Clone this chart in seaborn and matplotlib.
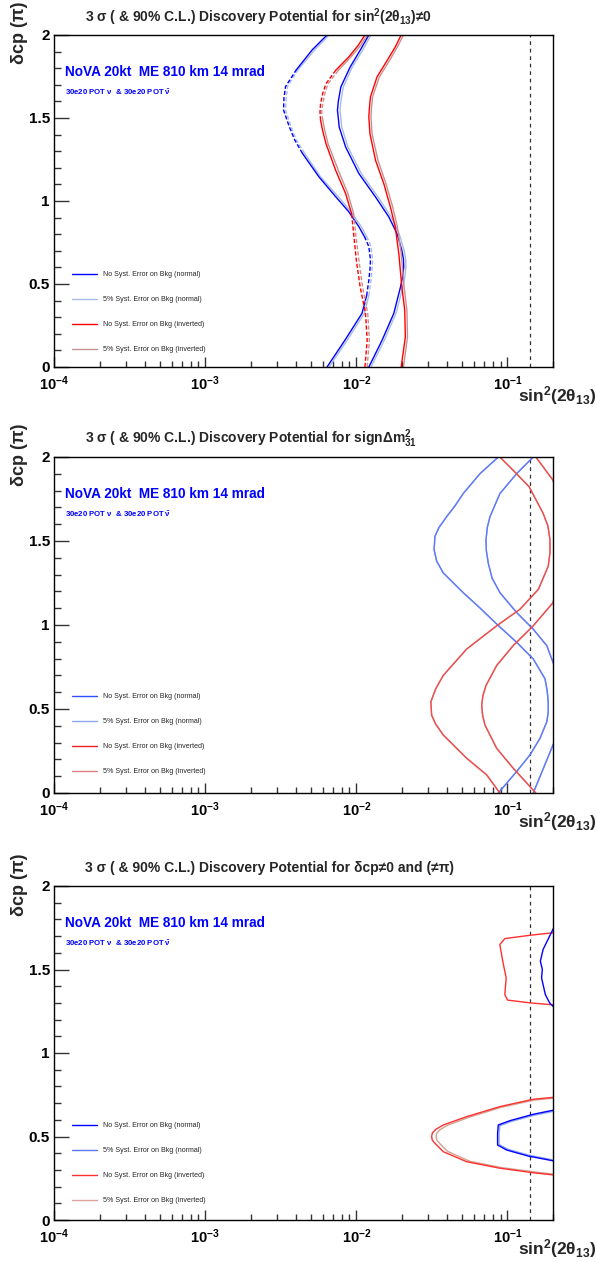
import numpy as np
import pandas as pd
import matplotlib
matplotlib.use("Agg")
import matplotlib.pyplot as plt
import seaborn as sns
from matplotlib.lines import Line2D
from matplotlib.ticker import FixedLocator, MultipleLocator, LogLocator, NullFormatter

# ---------------- data ----------------
XTICKS = [1e-4, 1e-3, 1e-2, 1e-1]
XTICK_LABELS = [r"$10^{-4}$", r"$10^{-3}$", r"$10^{-2}$", r"$10^{-1}$"]
YTICKS = [0, 0.5, 1, 1.5, 2]
YTICK_LABELS = ["0", "0.5", "1", "1.5", "2"]
CHOOZ_LIMIT = 0.14
LEGEND_LABELS = ["No Syst. Error on Bkg (normal)", "5% Syst. Error on Bkg (normal)",
                 "No Syst. Error on Bkg (inverted)", "5% Syst. Error on Bkg (inverted)"]
TITLES = [r"3 σ ( & 90% C.L.) Discovery Potential for sin$^{2}$(2θ$_{13}$)≠0",
          r"3 σ ( & 90% C.L.) Discovery Potential for signΔm$^{2}_{31}$",
          r"3 σ ( & 90% C.L.) Discovery Potential for δcp≠0 and (≠π)"]

# Panel 1: sin^2(2theta13) != 0   (d = delta_cp / pi, x = sin^2(2theta13))
p1_bn90_d = [0, 0.161, 0.323, 0.43, 0.524, 0.585, 0.645, 0.725, 0.78, 0.845, 0.936, 1.026, 1.146, 1.287, 1.37, 1.448, 1.548, 1.62, 1.689, 1.789, 1.910, 2.0]
p1_bn90_x = [0.0064, 0.0084, 0.0109, 0.0117, 0.0121, 0.0123, 0.0124, 0.0121, 0.0114, 0.0104, 0.0089, 0.0073, 0.00565, 0.0044, 0.0039, 0.0036, 0.0033, 0.00332, 0.0034, 0.0040, 0.0051, 0.0064]
p1_bn90s_x = [0.0066, 0.0087, 0.0113, 0.0121, 0.0125, 0.0127, 0.0128, 0.0125, 0.0118, 0.0108, 0.0092, 0.0076, 0.0058, 0.00455, 0.0040, 0.0037, 0.0034, 0.00344, 0.0035, 0.0041, 0.0053, 0.0066]
p1_bn3_d = [0, 0.161, 0.323, 0.482, 0.54, 0.603, 0.65, 0.703, 0.803, 0.904, 1.024, 1.165, 1.325, 1.446, 1.50, 1.546, 1.60, 1.687, 1.807, 1.908, 2.0]
p1_bn3_x = [0.0121, 0.0148, 0.0177, 0.0196, 0.0202, 0.0206, 0.0205, 0.0200, 0.0186, 0.0164, 0.0134, 0.0104, 0.0085, 0.0077, 0.0076, 0.0075, 0.0076, 0.0079, 0.0091, 0.0106, 0.0121]
p1_bn3s_x = [0.0125, 0.0153, 0.0183, 0.0203, 0.0209, 0.0213, 0.0212, 0.0207, 0.0192, 0.0170, 0.0139, 0.0108, 0.0088, 0.0080, 0.0079, 0.0078, 0.0079, 0.0082, 0.0094, 0.0110, 0.0125]
p1_ri90_d = [0, 0.161, 0.323, 0.482, 0.643, 0.803, 0.924, 1.044, 1.185, 1.345, 1.42, 1.486, 1.536, 1.586, 1.65, 1.707, 1.787, 1.867, 1.938, 2.0]
p1_ri90_x = [0.0114, 0.0118, 0.0115, 0.0106, 0.0100, 0.0096, 0.0093, 0.0085, 0.0073, 0.0063, 0.0060, 0.0058, 0.00575, 0.0058, 0.0060, 0.0063, 0.0073, 0.0089, 0.0103, 0.0114]
p1_ri90s_x = [0.0118, 0.0122, 0.0119, 0.0110, 0.0104, 0.0099, 0.0096, 0.0088, 0.0076, 0.0065, 0.0062, 0.0060, 0.0059, 0.0060, 0.0062, 0.0065, 0.0076, 0.0092, 0.0107, 0.0118]
p1_ri3_d = [0, 0.181, 0.343, 0.482, 0.683, 0.843, 0.964, 1.104, 1.245, 1.406, 1.456, 1.506, 1.56, 1.627, 1.747, 1.847, 1.928, 2.0]
p1_ri3_x = [0.0198, 0.0211, 0.0209, 0.0200, 0.0191, 0.0181, 0.0168, 0.0152, 0.0134, 0.0123, 0.0122, 0.0121, 0.0122, 0.0124, 0.0137, 0.0160, 0.0181, 0.0198]
p1_ri3s_x = [0.0205, 0.0218, 0.0216, 0.0207, 0.0198, 0.0187, 0.0174, 0.0157, 0.0139, 0.0127, 0.0126, 0.0125, 0.0126, 0.0128, 0.0142, 0.0166, 0.0187, 0.0205]
p1_bn90_dashed = [(0.44, 0.80), (1.23, 1.80)]
p1_ri90_dashed = [(0.0, 0.88), (1.46, 1.75)]

# Panel 2: sign of delta m^2_31
p2_bn90_d = [0, 0.128, 0.227, 0.325, 0.424, 0.48, 0.542, 0.61, 0.680, 0.798, 0.897, 1.005, 1.10, 1.192, 1.310, 1.38, 1.448, 1.527, 1.58, 1.645, 1.71, 1.783, 1.901, 2.0]
p2_bn90_x = [0.087, 0.115, 0.141, 0.164, 0.182, 0.186, 0.186, 0.183, 0.177, 0.148, 0.115, 0.085, 0.066, 0.051, 0.0376, 0.034, 0.0327, 0.0331, 0.0352, 0.0396, 0.045, 0.051, 0.0658, 0.087]
p2_bn3_d = [0, 0.148, 0.286, 0.40, 0.55, 0.68, 0.778, 0.877, 0.975, 1.074, 1.192, 1.28, 1.369, 1.44, 1.507, 1.58, 1.645, 1.783, 1.901, 2.0]
p2_bn3_x = [0.148, 0.173, 0.200, 0.225, 0.235, 0.225, 0.200, 0.182, 0.148, 0.115, 0.0892, 0.079, 0.0746, 0.0725, 0.0721, 0.0735, 0.0766, 0.0892, 0.115, 0.148]
p2_ri90_d = [0, 0.108, 0.207, 0.345, 0.41, 0.463, 0.542, 0.62, 0.700, 0.857, 0.995, 1.094, 1.212, 1.350, 1.43, 1.507, 1.59, 1.665, 1.823, 1.921, 2.0]
p2_ri90_x = [0.089, 0.0728, 0.0537, 0.0376, 0.0335, 0.0315, 0.0311, 0.0335, 0.0376, 0.0537, 0.0848, 0.121, 0.160, 0.186, 0.191, 0.191, 0.185, 0.172, 0.139, 0.109, 0.089]
p2_ri3_d = [0, 0.148, 0.266, 0.404, 0.46, 0.522, 0.58, 0.640, 0.759, 0.877, 0.995, 1.133, 1.30, 1.50, 1.70, 1.862, 2.0]
p2_ri3_x = [0.154, 0.109, 0.0848, 0.071, 0.0685, 0.0675, 0.0688, 0.0721, 0.0848, 0.109, 0.148, 0.200, 0.225, 0.235, 0.225, 0.200, 0.154]

# Panel 3: CP violation (delta != 0, pi) -- contour paths
p3_ri_lo_x = [0.21, 0.148, 0.0892, 0.0537, 0.0376, 0.0335, 0.0318, 0.0315, 0.0318, 0.0335, 0.0376, 0.0537, 0.0892, 0.148, 0.21]
p3_ri_lo_d = [0.736, 0.723, 0.679, 0.619, 0.569, 0.542, 0.520, 0.499, 0.478, 0.455, 0.409, 0.349, 0.310, 0.283, 0.268]
p3_ris_lo_x = [0.21, 0.150, 0.091, 0.056, 0.040, 0.0358, 0.0341, 0.0337, 0.0341, 0.0358, 0.040, 0.056, 0.091, 0.150, 0.21]
p3_ris_lo_d = [0.731, 0.718, 0.675, 0.616, 0.567, 0.541, 0.520, 0.499, 0.478, 0.456, 0.412, 0.352, 0.314, 0.288, 0.273]
p3_bn_lo_x = [0.21, 0.148, 0.104, 0.0869, 0.086, 0.086, 0.0988, 0.137, 0.21]
p3_bn_lo_d = [0.661, 0.633, 0.595, 0.569, 0.519, 0.449, 0.419, 0.383, 0.351]
p3_bns_lo_x = [0.21, 0.150, 0.106, 0.089, 0.088, 0.088, 0.101, 0.139, 0.21]
p3_bns_lo_d = [0.654, 0.627, 0.590, 0.565, 0.519, 0.452, 0.423, 0.388, 0.356]
p3_ri_hi_x = [0.21, 0.141, 0.096, 0.089, 0.093, 0.098, 0.096, 0.100, 0.141, 0.21]
p3_ri_hi_d = [1.722, 1.705, 1.685, 1.650, 1.550, 1.450, 1.350, 1.317, 1.300, 1.287]
p3_bn_hi_x = [0.21, 0.19, 0.172, 0.165, 0.170, 0.168, 0.178, 0.19, 0.21]
p3_bn_hi_d = [1.78, 1.70, 1.62, 1.55, 1.50, 1.45, 1.35, 1.30, 1.26]

# ---------------- style ----------------
sns.set_theme(style="white")
plt.rcParams['font.family'] = ['Liberation Sans', 'DejaVu Sans']
plt.rcParams['font.weight'] = 'bold'
plt.rcParams['mathtext.fontset'] = 'custom'
plt.rcParams['mathtext.rm'] = 'Liberation Sans:bold'
plt.rcParams['mathtext.it'] = 'Liberation Sans:bold'
plt.rcParams['mathtext.bf'] = 'Liberation Sans:bold'
plt.rcParams['mathtext.sf'] = 'Liberation Sans:bold'

W, H = 597, 1262
fig = plt.figure(figsize=(W / 100, H / 100), dpi=100)

# panel geometry in pixels (left, right, top, bottom)
PANELS = [(54, 553, 35, 367), (54, 553, 457, 793), (54, 553, 886, 1220)]

BLUE, BLUE_L = "#0000ff", "#a8bce8"
RED, RED_L = "#ff0000", "#c89090"
LEG_COLORS = [[BLUE, BLUE_L, RED, RED_L],
              ["#3050ff", "#8ea6ee", "#ee2020", "#e08080"],
              [BLUE, "#5c78e8", "#ff3030", "#e0a0a0"]]


def draw(ax, x, d, color, lw=1.0, dashed=None, alpha=1.0):
    df = pd.DataFrame({"x": x, "d": d})
    n = len(df)
    if not dashed:
        sns.lineplot(data=df, x="x", y="d", sort=False, estimator=None, color=color,
                     lw=lw, ax=ax, alpha=alpha)
        return
    mids = [(df.d[i] + df.d[i + 1]) / 2 for i in range(n - 1)]
    style = [any(lo <= m <= hi for lo, hi in dashed) for m in mids]
    start = 0
    for i in range(1, n):
        if i == n - 1 or style[i] != style[start]:
            seg = df.iloc[start:i + 1]
            sns.lineplot(data=seg, x="x", y="d", sort=False, estimator=None, color=color,
                         lw=lw, ax=ax, alpha=alpha,
                         linestyle=(0, (3, 1.5)) if style[start] else "-")
            start = i


axes = []
for k, (l, r, t, b) in enumerate(PANELS):
    ax = fig.add_axes([l / W, 1 - b / H, (r - l) / W, (b - t) / H])
    axes.append(ax)
    ax.set_xscale("log")
    ax.set_xlim(1e-4, 0.2)
    ax.set_ylim(0, 2)
    for s in ax.spines.values():
        s.set_color("black")
        s.set_linewidth(1.0)
        s.set_visible(True)
    ax.xaxis.set_major_locator(FixedLocator(XTICKS))
    ax.set_xticklabels(XTICK_LABELS)
    ax.xaxis.set_minor_locator(LogLocator(base=10, subs=np.arange(2, 10)))
    ax.xaxis.set_minor_formatter(NullFormatter())
    ax.yaxis.set_major_locator(FixedLocator(YTICKS))
    ax.set_yticklabels(YTICK_LABELS)
    ax.yaxis.set_minor_locator(MultipleLocator(0.1))
    ax.tick_params(axis="y", which="major", direction="in", length=11, width=1, pad=3,
                   labelsize=11, left=True, right=False, colors="#333333", labelcolor="black")
    ax.tick_params(axis="y", which="minor", direction="in", length=5, width=1, left=True, right=False,
                   colors="#333333")
    ax.tick_params(axis="x", which="major", direction="in", length=7, width=1, pad=5,
                   labelsize=10.5, bottom=True, top=False, colors="#333333", labelcolor="black")
    ax.tick_params(axis="x", which="minor", direction="in", length=4, width=1, bottom=True, top=False,
                   colors="#333333")
    ax.set_xlabel("")
    ax.set_ylabel("")
    ax.axvline(CHOOZ_LIMIT, color="#333333", lw=0.9, ls=(0, (3, 3)))

    # titles and labels
    fig.text(85 / W, 1 - (t - 18) / H, TITLES[k], ha="left", va="center", fontsize=10, weight="bold")
    fig.text(20 / W, 1 - (t - 33) / H, "δcp (π)", rotation=90, ha="center", va="top",
             fontsize=13, weight="bold")
    fig.text(518 / W, 1 - (b + 34) / H, r"sin$^{2}$(2θ$_{13}$)", ha="left", va="baseline",
             fontsize=12.5, weight="bold")
    ax.text(0.022, 1 - 37 / (b - t), "NoVA 20kt  ME 810 km 14 mrad", transform=ax.transAxes,
            color="#0000ff", fontsize=9.8, weight="bold", ha="left", va="center")
    ax.text(0.022, 1 - 57 / (b - t), r"30e20 POT $\nu$  & 30e20 POT $\bar{\nu}$", transform=ax.transAxes,
            color="#0000ff", fontsize=5.6, weight="bold", ha="left", va="center")

    handles = [Line2D([], [], color=c, lw=1.0) for c in LEG_COLORS[k]]
    ax.legend(handles, LEGEND_LABELS, loc="upper left",
              bbox_to_anchor=(18 / (r - l), (b - 271 - (t - 35)) / (b - t)),
              frameon=False, handlelength=3.5, handletextpad=0.85,
              labelspacing=2.56, borderpad=0, borderaxespad=0,
              prop={"family": "Liberation Sans", "weight": "normal", "size": 5.1})

ax1, ax2, ax3 = axes
# Panel 1
draw(ax1, p1_bn90s_x, p1_bn90_d, BLUE_L, dashed=p1_bn90_dashed)
draw(ax1, p1_bn90_x, p1_bn90_d, BLUE, dashed=p1_bn90_dashed)
draw(ax1, p1_bn3s_x, p1_bn3_d, BLUE_L)
draw(ax1, p1_bn3_x, p1_bn3_d, BLUE)
draw(ax1, p1_ri90s_x, p1_ri90_d, RED_L, dashed=p1_ri90_dashed)
draw(ax1, p1_ri90_x, p1_ri90_d, RED, dashed=p1_ri90_dashed)
draw(ax1, p1_ri3s_x, p1_ri3_d, RED_L)
draw(ax1, p1_ri3_x, p1_ri3_d, RED)

# Panel 2 (no-syst and 5% curves coincide)
for xs, ds in [(p2_bn90_x, p2_bn90_d), (p2_bn3_x, p2_bn3_d)]:
    draw(ax2, xs, ds, "#3050ff", lw=1.0)
    draw(ax2, xs, ds, "#8ea6ee", lw=1.0, alpha=0.5)
for xs, ds in [(p2_ri90_x, p2_ri90_d), (p2_ri3_x, p2_ri3_d)]:
    draw(ax2, xs, ds, "#ee2020", lw=1.0)
    draw(ax2, xs, ds, "#e08080", lw=1.0, alpha=0.5)

# Panel 3
draw(ax3, p3_ris_lo_x, p3_ris_lo_d, "#d4a090")
draw(ax3, p3_ri_lo_x, p3_ri_lo_d, "#ff3030")
draw(ax3, p3_bns_lo_x, p3_bns_lo_d, "#8ea6ee")
draw(ax3, p3_bn_lo_x, p3_bn_lo_d, BLUE)
draw(ax3, p3_ri_hi_x, p3_ri_hi_d, "#ff3030")
draw(ax3, p3_bn_hi_x, p3_bn_hi_d, BLUE)

for ax in axes:
    ax.set_xlim(1e-4, 0.2)
    ax.set_ylim(0, 2)
    ax.set_xlabel("")
    ax.set_ylabel("")

fig.savefig("out.png", dpi=100, facecolor="white")
